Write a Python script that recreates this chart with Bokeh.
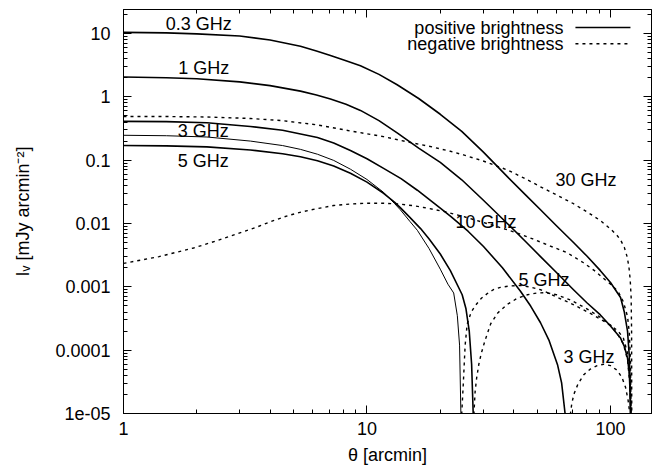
from bokeh.plotting import figure
from bokeh.models import FixedTicker, LogAxis, CustomJSTickFormatter
from bokeh.core.properties import value
from bokeh.embed import file_html
from bokeh.resources import INLINE

# ---------------- data ----------------
# positive brightness (solid)
theta_0p3 = [1.0, 1.5, 2.0, 3.0, 4.0, 5.33, 6.2, 7.08, 8.2, 9.4, 11.2, 13.3, 16.3, 20.0, 24.5, 30.0, 37.7,
             45.0, 51.6, 60.0, 70.5, 80.0, 90.9, 100.0, 110.0, 114.0, 117.5, 119.5, 120.5, 120.9, 121.0]
I_0p3 = [10.4, 10.2, 9.85, 9.1, 7.9, 6.3, 5.3, 4.5, 3.72, 3.1, 2.26, 1.55, 0.94, 0.53, 0.285, 0.135, 0.055,
         0.0278, 0.0165, 0.0092, 0.0050, 0.00306, 0.0018, 0.00117, 0.00068, 0.0004, 0.0002, 8e-5, 3e-5, 1e-5, 1e-8]

theta_1 = [1.0, 1.5, 2.0, 3.0, 4.0, 5.33, 6.2, 7.08, 8.2, 9.4, 11.2, 13.3, 16.3, 20.0, 24.5, 30.0, 37.7,
           45.0, 51.6, 60.0, 70.5, 80.0, 90.9, 100.0, 110.0, 114.0, 117.5, 119.5, 120.5, 120.9, 121.0]
I_1 = [2.05, 2.0, 1.93, 1.72, 1.5, 1.23, 1.07, 0.92, 0.76, 0.61, 0.42, 0.27, 0.155, 0.092, 0.049, 0.0235, 0.0100,
       0.0051, 0.0030, 0.00168, 0.00090, 0.00056, 0.00036, 0.00024, 0.000155, 0.000115, 7.5e-5, 4.2e-5, 2e-5, 1e-5, 1e-8]

theta_3 = [1.0, 1.5, 2.2, 3.32, 4.5, 6.26, 7.3, 8.55, 10.0, 11.7, 13.8, 16.1, 20.0, 22.0, 26.0, 30.1, 36.0,
           42.7, 47.0, 51.6, 56.0, 60.6, 63.0, 65.1, 65.3]
I_3 = [0.41, 0.405, 0.39, 0.34, 0.297, 0.228, 0.187, 0.142, 0.105, 0.074, 0.051, 0.0335, 0.0175, 0.0131, 0.00755,
       0.00433, 0.0020, 0.00085, 0.000497, 0.000271, 0.000141, 5.9e-5, 3.05e-5, 1e-5, 1e-8]

theta_5a = [1.0, 1.5, 2.2, 3.32, 4.5, 5.33, 6.26, 7.3, 8.55, 10.0, 11.7, 13.0, 13.7, 15.0, 16.1, 18.0, 20.0,
            21.5, 22.7, 23.5, 24.0, 24.3, 24.4]
I_5a = [0.247, 0.243, 0.232, 0.2, 0.17, 0.148, 0.124, 0.099, 0.072, 0.0495, 0.031, 0.0205, 0.0165, 0.0108, 0.0078,
        0.0040, 0.0019, 0.0011, 0.0008, 0.00035, 0.00012, 1e-5, 1e-8]

theta_5b = [1.0, 1.5, 2.2, 3.32, 4.5, 5.33, 6.26, 7.3, 8.55, 10.0, 11.7, 13.0, 13.7, 15.0, 16.6, 18.0, 20.0,
            22.0, 24.6, 25.5, 26.3, 26.9, 27.3, 27.4]
I_5b = [0.17, 0.168, 0.162, 0.145, 0.126, 0.113, 0.098, 0.081, 0.062, 0.045, 0.0300, 0.0215, 0.0178, 0.0125,
        0.0083, 0.0057, 0.0033, 0.0018, 0.00075, 0.00045, 0.0002, 6e-5, 1e-5, 1e-8]

# negative brightness (dotted)
theta_30n = [1.0, 1.5, 2.2, 3.32, 4.5, 6.26, 8.5, 11.7, 15.1, 18.5, 22.0, 24.9, 30.0, 37.7, 44.0, 51.6, 60.0,
             70.5, 80.0, 90.9, 100.0, 106.0, 110.0, 114.0, 117.0, 119.0, 120.5, 121.6, 122.1, 122.3, 122.35]
I_30n = [0.49, 0.488, 0.48, 0.455, 0.42, 0.36, 0.29, 0.235, 0.19, 0.162, 0.138, 0.121, 0.097, 0.070, 0.0525,
         0.038, 0.0283, 0.0205, 0.0153, 0.0111, 0.0082, 0.0066, 0.0055, 0.0042, 0.003, 0.0021, 0.0013, 0.00068,
         0.0002, 1e-5, 1e-8]

theta_10n = [1.0, 1.4, 1.94, 2.4, 2.9, 3.48, 4.1, 4.76, 5.5, 6.26, 7.3, 8.55, 10.0, 11.7, 13.7, 15.5, 17.1,
             21.0, 25.0, 29.3, 35.0, 41.3, 48.0, 56.6, 66.0, 77.5, 86.0, 95.4, 102.0, 107.9, 113.0, 117.5,
             119.5, 120.8, 121.5, 121.6]
I_10n = [0.00234, 0.0030, 0.0041, 0.0053, 0.0068, 0.0086, 0.0110, 0.0134, 0.0155, 0.0172, 0.0192, 0.0203,
         0.0209, 0.0209, 0.0202, 0.0191, 0.0179, 0.0153, 0.0128, 0.0107, 0.0087, 0.0071, 0.0057, 0.0044,
         0.0035, 0.0024, 0.0018, 0.00128, 0.00104, 0.00082, 0.00058, 0.00034, 0.00019, 7e-5, 1e-5, 1e-8]

theta_5an = [24.4, 24.5, 24.9, 25.3, 25.8, 26.8, 27.9, 29.5, 31.3, 33.0, 35.3, 38.5, 42.7, 47.0, 51.6, 56.0,
             60.6, 70.0, 82.7, 95.0, 106.9, 113.0, 117.5, 119.8, 120.8, 121.3, 121.4]
I_5an = [1e-8, 1e-5, 3.3e-5, 0.00012, 0.00026, 0.0004, 0.00051, 0.00066, 0.00079, 0.0009, 0.00098, 0.00103,
         0.00105, 0.00099, 0.00090, 0.00079, 0.00068, 0.00053, 0.00038, 0.00028, 0.000205, 0.000155, 9e-5,
         4e-5, 1.6e-5, 1e-5, 1e-8]

theta_5bn = [27.4, 27.5, 27.8, 28.2, 28.8, 29.5, 30.5, 32.2, 34.5, 37.7, 41.5, 45.6, 50.0, 54.1, 60.0, 68.5,
             80.0, 90.9, 100.0, 106.9, 113.0, 117.5, 120.0, 121.3, 121.4]
I_5bn = [1e-8, 1e-5, 2.2e-5, 3.6e-5, 6e-5, 9e-5, 0.00014, 0.00026, 0.00039, 0.00053, 0.00066, 0.00075, 0.0008,
         0.00081, 0.00075, 0.00062, 0.00045, 0.00033, 0.00025, 0.00018, 0.000125, 7e-5, 3e-5, 1e-5, 1e-8]

theta_3n = [68.3, 68.5, 69.3, 70.7, 73.5, 77.7, 82.5, 88.2, 93.6, 100.0, 106.6, 111.5, 115.3, 118.2, 120.0, 120.2]
I_3n = [1e-8, 1e-5, 1.4e-5, 2.0e-5, 2.9e-5, 4.1e-5, 5.0e-5, 5.7e-5, 6.0e-5, 5.7e-5, 4.8e-5, 3.7e-5, 2.6e-5,
        1.6e-5, 1e-5, 1e-8]

# tick labels
x_ticks = [1, 10, 100]
x_tick_labels = ["1", "10", "100"]
y_ticks = [1e-5, 1e-4, 1e-3, 1e-2, 1e-1, 1, 10]
y_tick_labels = ["1e-05", "0.0001", "0.001", "0.01", "0.1", "1", "10"]

curve_labels = ["0.3 GHz", "1 GHz", "3 GHz", "5 GHz", "30 GHz", "10 GHz", "5 GHz", "3 GHz"]
legend_labels = ["positive brightness", "negative brightness"]

# ---------------- figure ----------------
FONT = "Liberation Sans"
FS = "18px"
X_MAX, Y_MIN, Y_MAX = 147.4, 1e-5, 23.9

p = figure(x_axis_type="log", y_axis_type="log",
           x_range=(1, X_MAX), y_range=(Y_MIN, Y_MAX),
           frame_width=528, frame_height=404,
           min_border_left=123, min_border_right=3, min_border_top=9, min_border_bottom=59,
           output_backend="svg", toolbar_location=None)
p.xgrid.visible = False
p.ygrid.visible = False
p.outline_line_color = "black"
p.outline_line_width = 1
p.background_fill_color = "white"
p.border_fill_color = "white"

x_minor = [k * 10 ** d for d in range(0, 3) for k in range(2, 10) if k * 10 ** d < X_MAX]
y_minor = [k * 10.0 ** d for d in range(-5, 2) for k in range(2, 10) if k * 10.0 ** d < Y_MAX]

fmt_code = """
for (let i = 0; i < t.length; i++) {
  if (Math.abs(Math.log10(tick) - Math.log10(t[i])) < 1e-6) { return l[i]; }
}
return '';
"""


def style_axis(ax):
    ax.major_tick_in = 8
    ax.major_tick_out = 0
    ax.minor_tick_in = 4
    ax.minor_tick_out = 0
    ax.axis_line_color = "black"
    ax.major_tick_line_color = "black"
    ax.minor_tick_line_color = "black"
    ax.major_label_text_font = FONT
    ax.major_label_text_font_size = FS
    ax.major_label_text_color = "black"
    ax.axis_label_text_font = FONT
    ax.axis_label_text_font_size = FS
    ax.axis_label_text_font_style = "normal"
    ax.axis_label_text_color = "black"


xa = p.xaxis[0]
style_axis(xa)
xa.ticker = FixedTicker(ticks=x_ticks, minor_ticks=x_minor)
xa.formatter = CustomJSTickFormatter(args=dict(t=x_ticks, l=x_tick_labels), code=fmt_code)
xa.major_label_standoff = 8
xa.axis_label = "θ [arcmin]"
xa.axis_label_standoff = 7

ya = p.yaxis[0]
style_axis(ya)
ya.ticker = FixedTicker(ticks=y_ticks, minor_ticks=y_minor)
ya.formatter = CustomJSTickFormatter(args=dict(t=y_ticks, l=y_tick_labels), code=fmt_code)
ya.major_label_standoff = 13
ya.axis_label = "Iᵥ [mJy arcmin⁻²]"
ya.axis_label_standoff = 19

# mirrored tick axes (top, right)
top = LogAxis(ticker=FixedTicker(ticks=x_ticks, minor_ticks=x_minor),
              formatter=CustomJSTickFormatter(code="return '';"))
style_axis(top)
top.major_label_text_font_size = "0px"
top.major_label_standoff = 0
p.add_layout(top, "above")

right = LogAxis(ticker=FixedTicker(ticks=y_ticks, minor_ticks=y_minor),
                formatter=CustomJSTickFormatter(code="return '';"))
style_axis(right)
right.major_label_text_font_size = "0px"
right.major_label_standoff = 0
p.add_layout(right, "right")

# ---------------- curves ----------------
thick = dict(line_color="black", line_width=1.6, line_join="round")
thin = dict(line_color="black", line_width=1.0, line_join="round")
dots = dict(line_color="black", line_width=1.4, line_dash="3 4", line_join="round")

p.line(theta_0p3, I_0p3, **thick)
p.line(theta_1, I_1, **thick)
p.line(theta_3, I_3, **thick)
p.line(theta_5a, I_5a, **thin)
p.line(theta_5b, I_5b, **thick)

p.line(theta_30n, I_30n, **dots)
p.line(theta_10n, I_10n, **dots)
p.line(theta_5an, I_5an, **dots)
p.line(theta_5bn, I_5bn, **dots)
p.line(theta_3n, I_3n, **dots)

# ---------------- curve labels ----------------
label_x = [1.49, 1.68, 1.67, 1.67, 59.4, 23.1, 41.9, 64.1]
label_y = [13.9, 2.80, 0.284, 0.0953, 0.0478, 0.0104, 0.00126, 7.7e-5]
p.text(x=label_x, y=label_y, text=curve_labels,
       text_font=value(FONT), text_font_size=FS, text_color="black",
       text_align="left", text_baseline="middle")

# ---------------- legend ----------------
p.text(x=[64.1, 64.1], y=[12.0, 6.71], text=legend_labels,
       text_font=value(FONT), text_font_size=FS, text_color="black",
       text_align="right", text_baseline="middle")
p.line([71.8, 120.8], [12.45, 12.45], line_color="black", line_width=1.6)
p.line([71.8, 120.8], [6.89, 6.89], line_color="black", line_width=1.4, line_dash="3 4")

open("out.html", "w").write(file_html(p, INLINE))
